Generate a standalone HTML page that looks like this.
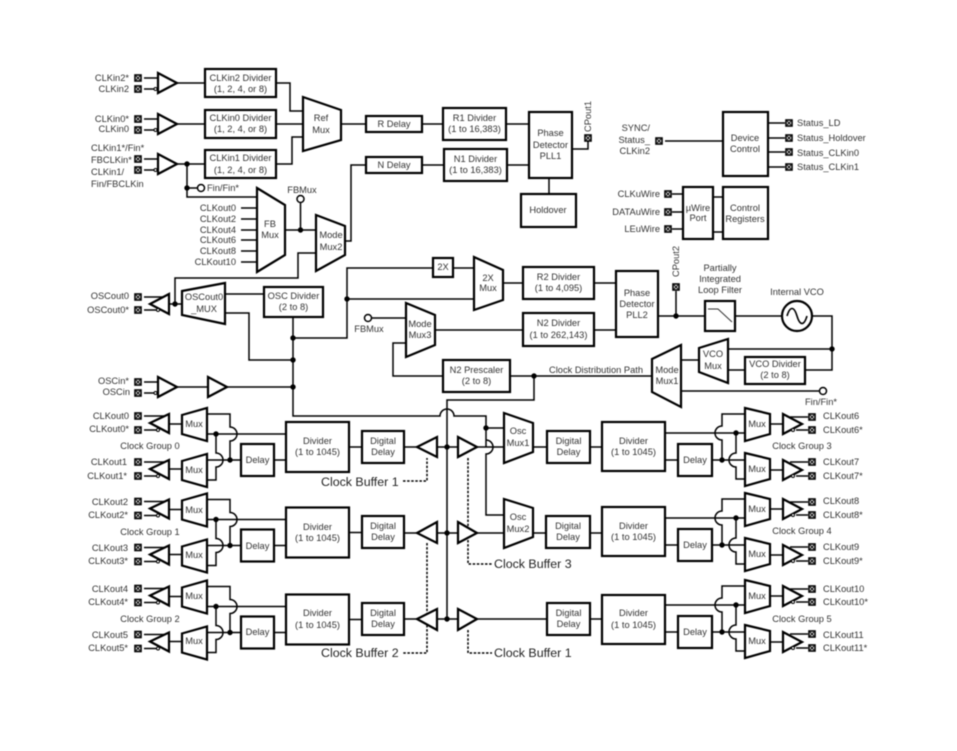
<!DOCTYPE html>
<html>
<head>
<meta charset="utf-8">
<style>
html,body{margin:0;padding:0;background:#fff;width:957px;height:751px;overflow:hidden}
svg{display:block;filter:blur(.4px)}
text{font-family:"Liberation Sans",sans-serif;font-size:9.3px;fill:#333;dominant-baseline:central}
.m{text-anchor:middle}
.e{text-anchor:end}
.b{font-size:12.4px;fill:#222}
.l{fill:none;stroke:#000;stroke-width:1.5}
.s{fill:#fff;stroke:#000;stroke-width:2.2;stroke-linejoin:miter}
.d{fill:#000;stroke:none}
.h{fill:none;stroke:#000;stroke-width:1.5;stroke-dasharray:2.5 1.6}
</style>
</head>
<body>
<svg width="957" height="751" viewBox="0 0 957 751" xmlns="http://www.w3.org/2000/svg">
<defs>
<g id="p"><rect x="-3" y="-3" width="6" height="6" fill="#fff" stroke="#000" stroke-width="1.6"/><path d="M-2 -2L2 2M2 -2L-2 2" stroke="#000" stroke-width=".9"/></g>
<g id="ib"><path class="l" d="M144 -5H160M144 6H154"/><circle cx="155.500" cy="6" r="1.500" fill="#fff" stroke="#000" stroke-width="1"/><polygon class="s" points="158,-10 177,0 158,10"/><use href="#p" x="138" y="-5"/><use href="#p" x="138" y="6"/></g>
<g id="lg">
<path class="l" d="M144 416H164M144 430H157M144 462H164M144 476H157M169 424H182M169 469H182"/>
<circle cx="158" cy="430" r="1.500" fill="#fff" stroke="#000" stroke-width="1"/><circle cx="158" cy="476" r="1.500" fill="#fff" stroke="#000" stroke-width="1"/>
<polygon class="s" points="150,423 169,414 169,433"/><polygon class="s" points="150,469 169,460 169,479"/>
<use href="#p" x="138" y="416"/><use href="#p" x="138" y="430"/><use href="#p" x="138" y="462"/><use href="#p" x="138" y="476"/>
<polygon class="s" points="182,415 207,408 207,441 182,434"/><polygon class="s" points="182,461 207,454 207,487 182,480"/>
<path class="l" d="M207 414H230V427A7 7 0 0 1 230 441V460M207 434H286M216 434V453A7 7 0 0 1 216 467V480H207M207 460H241M274 460H286M349 447H362"/>
<circle class="d" cx="216" cy="434" r="2.700"/><circle class="d" cx="230" cy="460" r="2.700"/>
<rect class="s" x="241" y="444" width="33" height="32"/><rect class="s" x="286" y="422" width="63" height="50"/>
</g>
<g id="rg">
<path class="l" d="M665 433H745M722 460V440A7 7 0 0 1 722 426V414H745M736 433V453A7 7 0 0 0 736 467V479H745M712 460H745M665 460H678M770 424H783M770 470H783M790 417H808M796 430H808M790 462H808M796 476H808"/>
<circle class="d" cx="736" cy="433" r="2.700"/><circle class="d" cx="722" cy="460" r="2.700"/>
<rect class="s" x="678" y="444" width="34" height="32"/>
<polygon class="s" points="745,408 770,414 770,434 745,441"/><polygon class="s" points="745,453 770,459 770,479 745,486"/>
<polygon class="s" points="783,414 802,424 783,434"/><polygon class="s" points="783,460 802,470 783,480"/>
<circle cx="793" cy="430" r="1.500" fill="#fff" stroke="#000" stroke-width="1"/><circle cx="793" cy="476" r="1.500" fill="#fff" stroke="#000" stroke-width="1"/>
<use href="#p" x="812" y="417"/><use href="#p" x="812" y="430"/><use href="#p" x="812" y="462"/><use href="#p" x="812" y="476"/>
</g>
</defs>

<!-- connectors -->
<path class="l" d="M177 83H205M276 83H290V111H303M177 124H205M276 124H303M177 164H205M276 164H292V137H303M187 164V197H257M187 188H197M241 208H257M241 219H257M241 230H257M241 240H257M241 251H257M241 262H257M285 230H316M300.500 230V203M345 241H351V165H366M316 253H298V278H175V304M341 124H366M422 124H443M506 124H529M422 165H444M507 165H529M549 178V194M572 149H588V141"/>
<path class="l" d="M169 304H182M225 294H264M225 313H249V360H293M293 317V416H440A7 7 0 0 1 454 416H486V447M486 416V428H504M486 440A7 7 0 0 1 486 454V515H504M293 338H347V268H433M453 268H474M347 299H474M503 283H523M594 283H616M594 330H616M372 318H406M435 330H523M406 343H393V376H443M510 376H652M534 376V400H447V619"/>
<path class="l" d="M658 316H705M735 316H782M812 316H832V370H805M832 349H728M745 370H728M699 360H681M681 391H819M676 291V316"/>
<path class="l" d="M144 297H163M144 310H157M177 387H208M227 387H293"/>
<path class="l" d="M404 447H417M437 447H458M477 447H504M533 447H547M590 447H602M404 533H417M437 533H458M477 533H504M533 533H546M590 533H602M404 619H417M437 619H458M477 619H547M590 619H602"/>
<path class="l" d="M713 197H723M713 232H723M672 194H683M672 212H683M672 229H683M665 141H723M768 123H785M768 138H785M768 152H785M768 167H785"/>
<path class="h" d="M403 481H427V458M427 543V653H403M468 458V564H492M468 630V653H492"/>

<!-- input buffers -->
<use href="#ib" y="83"/><use href="#ib" y="124"/><use href="#ib" y="164"/><use href="#ib" y="387"/>
<polygon class="s" points="208,377 227,387 208,397"/>

<!-- top-left blocks -->
<rect class="s" x="205" y="69" width="71" height="28"/><rect class="s" x="205" y="110" width="71" height="28"/><rect class="s" x="205" y="150" width="71" height="28"/>
<polygon class="s" points="303,97 341,110 341,140 303,151"/>
<polygon class="s" points="257,188 285,205 285,255 257,272"/>
<polygon class="s" points="316,215 345,226 345,255 316,271"/>
<rect class="s" x="366" y="116" width="56" height="16"/><rect class="s" x="366" y="157" width="56" height="16"/>
<rect class="s" x="443" y="108" width="63" height="32"/><rect class="s" x="444" y="149" width="63" height="32"/>
<rect class="s" x="529" y="112" width="43" height="66"/><rect class="s" x="521" y="194" width="55" height="33"/>
<circle class="d" cx="187" cy="164" r="2.700"/><circle class="d" cx="187" cy="188" r="2.700"/><circle class="d" cx="300.500" cy="230" r="2.700"/>
<circle cx="201" cy="188" r="3.500" fill="#fff" stroke="#000" stroke-width="1.500"/><circle cx="300.500" cy="199" r="3.500" fill="#fff" stroke="#000" stroke-width="1.500"/>
<use href="#p" x="588" y="138"/>

<!-- top-right blocks -->
<rect class="s" x="723" y="112" width="45" height="64"/><rect class="s" x="683" y="187" width="30" height="52"/><rect class="s" x="723" y="187" width="45" height="52"/>
<use href="#p" x="659" y="141"/><use href="#p" x="789" y="123"/><use href="#p" x="789" y="138"/><use href="#p" x="789" y="152"/><use href="#p" x="789" y="167"/>
<use href="#p" x="668" y="194"/><use href="#p" x="668" y="212"/><use href="#p" x="668" y="229"/>

<!-- mid blocks -->
<polygon class="s" points="150,304 169,294 169,314"/>
<circle cx="158" cy="310" r="1.500" fill="#fff" stroke="#000" stroke-width="1"/>
<use href="#p" x="138" y="297"/><use href="#p" x="138" y="310"/>
<circle class="d" cx="175" cy="304" r="2.700"/>
<polygon class="s" points="182,291 225,283 225,324 182,315"/>
<rect class="s" x="264" y="287" width="59" height="30"/>
<circle class="d" cx="293" cy="338" r="2.700"/><circle class="d" cx="293" cy="360" r="2.700"/><circle class="d" cx="293" cy="387" r="2.700"/><circle class="d" cx="347" cy="299" r="2.700"/>
<rect class="s" x="433" y="258" width="20" height="19"/>
<polygon class="s" points="474,257 503,270 503,300 474,310"/>
<rect class="s" x="523" y="267" width="71" height="32"/><rect class="s" x="523" y="313" width="71" height="33"/>
<rect class="s" x="616" y="271" width="42" height="66"/>
<use href="#p" x="676" y="287"/><circle class="d" cx="676" cy="316" r="2.700"/>
<rect class="s" x="705" y="301" width="30" height="30"/><path d="M708 309H718L732 322" fill="none" stroke="#333" stroke-width="1"/>
<circle class="s" cx="797" cy="316" r="15"/><path d="M787 316C790 306 794 306 797 316S804 326 807 316" fill="none" stroke="#000" stroke-width="1.600"/>
<circle class="d" cx="832" cy="349" r="2.700"/>
<polygon class="s" points="699,348 728,339 728,383 699,372"/>
<rect class="s" x="745" y="357" width="60" height="27"/>
<polygon class="s" points="652,359 681,345 681,407 652,392"/>
<circle cx="823" cy="391" r="3.500" fill="#fff" stroke="#000" stroke-width="1.500"/>
<circle cx="368" cy="318" r="3.500" fill="#fff" stroke="#000" stroke-width="1.500"/>
<polygon class="s" points="406,303 435,315 435,345 406,357"/>
<rect class="s" x="443" y="360" width="67" height="32"/>
<circle class="d" cx="534" cy="376" r="2.700"/>

<!-- clock groups -->
<use href="#lg"/><use href="#lg" y="85.500"/><use href="#lg" y="172.500"/>
<use href="#rg"/><use href="#rg" y="85"/><use href="#rg" y="172"/>

<!-- centre -->
<rect class="s" x="362" y="431" width="42" height="32"/><rect class="s" x="362" y="516" width="42" height="32"/><rect class="s" x="362" y="603" width="42" height="32"/>
<polygon class="s" points="417,447 437,437 437,457"/><polygon class="s" points="417,533 437,522 437,543"/><polygon class="s" points="417,619 437,609 437,630"/>
<polygon class="s" points="458,437 477,447 458,457"/><polygon class="s" points="458,522 477,533 458,543"/><polygon class="s" points="458,609 477,619 458,630"/>
<circle class="d" cx="447" cy="447" r="2.700"/><circle class="d" cx="447" cy="533" r="2.700"/><circle class="d" cx="447" cy="619" r="2.700"/><circle class="d" cx="486" cy="428" r="2.700"/>
<polygon class="s" points="504,413 533,423 533,452 504,463"/><polygon class="s" points="504,499 533,508 533,537 504,548"/>
<rect class="s" x="547" y="431" width="43" height="32"/><rect class="s" x="546" y="516" width="44" height="32"/><rect class="s" x="547" y="603" width="43" height="32"/>
<rect class="s" x="602" y="422" width="63" height="49"/><rect class="s" x="602" y="507" width="63" height="49"/><rect class="s" x="602" y="595" width="63" height="49"/>

<!-- text -->
<text class="e" x="129" y="78">CLKin2*</text><text class="e" x="129" y="89">CLKin2</text>
<text class="e" x="129" y="119">CLKin0*</text><text class="e" x="129" y="129">CLKin0</text>
<text x="91" y="148">CLKin1*/Fin*</text><text x="91" y="160">FBCLKin*</text><text x="91" y="172">CLKin1/</text><text x="91" y="184">Fin/FBCLKin</text>
<text class="m" x="240.500" y="78">CLKin2 Divider</text><text class="m" x="240.500" y="89">(1, 2, 4, or 8)</text>
<text class="m" x="240.500" y="118">CLKin0 Divider</text><text class="m" x="240.500" y="129">(1, 2, 4, or 8)</text>
<text class="m" x="240.500" y="158">CLKin1 Divider</text><text class="m" x="240.500" y="170">(1, 2, 4, or 8)</text>
<text class="m" x="321" y="118">Ref</text><text class="m" x="321" y="130">Mux</text>
<text x="207" y="188">Fin/Fin*</text>
<text class="m" x="302" y="190">FBMux</text>
<text class="e" x="236" y="208">CLKout0</text><text class="e" x="236" y="219">CLKout2</text><text class="e" x="236" y="230">CLKout4</text><text class="e" x="236" y="240">CLKout6</text><text class="e" x="236" y="251">CLKout8</text><text class="e" x="236" y="262">CLKout10</text>
<text class="m" x="270" y="224">FB</text><text class="m" x="270" y="235">Mux</text>
<text class="m" x="331" y="235">Mode</text><text class="m" x="331" y="247">Mux2</text>
<text class="m" x="394" y="124">R Delay</text><text class="m" x="394" y="165">N Delay</text>
<text class="m" x="474.500" y="118">R1 Divider</text><text class="m" x="474.500" y="129">(1 to 16,383)</text>
<text class="m" x="475.500" y="159">N1 Divider</text><text class="m" x="475.500" y="170">(1 to 16,383)</text>
<text class="m" x="550.500" y="133">Phase</text><text class="m" x="550.500" y="145">Detector</text><text class="m" x="550.500" y="156">PLL1</text>
<text class="m" x="548" y="210">Holdover</text>
<text transform="rotate(-90 588 132)" x="588" y="132">CPout1</text>
<text class="e" x="650" y="128">SYNC/</text><text class="e" x="650" y="140">Status_</text><text class="e" x="650" y="151">CLKin2</text>
<text class="m" x="745" y="138">Device</text><text class="m" x="745" y="149">Control</text>
<text x="797" y="123">Status_LD</text><text x="797" y="138">Status_Holdover</text><text x="797" y="153">Status_CLKin0</text><text x="797" y="167">Status_CLKin1</text>
<text class="e" x="660" y="194">CLKuWire</text><text class="e" x="660" y="212">DATAuWire</text><text class="e" x="660" y="229">LEuWire</text>
<text class="m" x="698" y="208">µWire</text><text class="m" x="698" y="218">Port</text>
<text class="m" x="745" y="208">Control</text><text class="m" x="745" y="219">Registers</text>

<text class="e" x="129" y="296">OSCout0</text><text class="e" x="129" y="310">OSCout0*</text>
<text class="m" x="204" y="297">OSCout0</text><text class="m" x="204" y="309">_MUX</text>
<text class="m" x="293.500" y="296">OSC Divider</text><text class="m" x="293.500" y="307">(2 to 8)</text>
<text class="e" x="129" y="381">OSCin*</text><text class="e" x="130" y="392">OSCin</text>
<text class="m" x="443" y="267">2X</text>
<text class="m" x="488" y="278">2X</text><text class="m" x="488" y="288">Mux</text>
<text class="m" x="558.500" y="277">R2 Divider</text><text class="m" x="558.500" y="288">(1 to 4,095)</text>
<text class="m" x="558.500" y="323">N2 Divider</text><text class="m" x="558.500" y="335">(1 to 262,143)</text>
<text class="m" x="637" y="293">Phase</text><text class="m" x="637" y="304">Detector</text><text class="m" x="637" y="315">PLL2</text>
<text transform="rotate(-90 676 277)" x="676" y="277">CPout2</text>
<text class="m" x="720" y="268">Partially</text><text class="m" x="720" y="279">Integrated</text><text class="m" x="720" y="290">Loop Filter</text>
<text class="m" x="797" y="292">Internal VCO</text>
<text class="m" x="369" y="329">FBMux</text>
<text class="m" x="420" y="324">Mode</text><text class="m" x="420" y="335">Mux3</text>
<text class="m" x="476.500" y="370">N2 Prescaler</text><text class="m" x="476.500" y="381">(2 to 8)</text>
<text x="549" y="370">Clock Distribution Path</text>
<text class="m" x="713" y="354">VCO</text><text class="m" x="713" y="366">Mux</text>
<text class="m" x="775" y="364">VCO Divider</text><text class="m" x="775" y="375">(2 to 8)</text>
<text class="m" x="667" y="370">Mode</text><text class="m" x="667" y="381">Mux1</text>
<text class="m" x="821" y="402">Fin/Fin*</text>

<!-- left group text -->
<text class="e" x="129" y="416">CLKout0</text><text class="e" x="129" y="429">CLKout0*</text><text class="m" x="150" y="446">Clock Group 0</text><text class="e" x="127" y="462">CLKout1</text><text class="e" x="127" y="476">CLKout1*</text>
<text class="e" x="128" y="502">CLKout2</text><text class="e" x="128" y="515">CLKout2*</text><text class="m" x="150" y="532">Clock Group 1</text><text class="e" x="128" y="548">CLKout3</text><text class="e" x="128" y="561">CLKout3*</text>
<text class="e" x="128" y="589">CLKout4</text><text class="e" x="128" y="602">CLKout4*</text><text class="m" x="150" y="619">Clock Group 2</text><text class="e" x="128" y="635">CLKout5</text><text class="e" x="128" y="648">CLKout5*</text>
<text class="m" x="194" y="424">Mux</text><text class="m" x="194" y="470">Mux</text><text class="m" x="194" y="510">Mux</text><text class="m" x="194" y="555">Mux</text><text class="m" x="194" y="596">Mux</text><text class="m" x="194" y="641">Mux</text>
<text class="m" x="257.500" y="460">Delay</text><text class="m" x="257.500" y="546">Delay</text><text class="m" x="257.500" y="632">Delay</text>
<text class="m" x="317.500" y="441">Divider</text><text class="m" x="317.500" y="452">(1 to 1045)</text>
<text class="m" x="317.500" y="527">Divider</text><text class="m" x="317.500" y="538">(1 to 1045)</text>
<text class="m" x="317.500" y="613">Divider</text><text class="m" x="317.500" y="625">(1 to 1045)</text>
<text class="m" x="383" y="441">Digital</text><text class="m" x="383" y="452">Delay</text>
<text class="m" x="383" y="526">Digital</text><text class="m" x="383" y="537">Delay</text>
<text class="m" x="383" y="613">Digital</text><text class="m" x="383" y="624">Delay</text>

<text class="b" x="321" y="482">Clock Buffer 1</text><text class="b" x="321" y="653">Clock Buffer 2</text>
<text class="b" x="494" y="564">Clock Buffer 3</text><text class="b" x="494" y="653">Clock Buffer 1</text>

<text class="m" x="518" y="431">Osc</text><text class="m" x="518" y="443">Mux1</text>
<text class="m" x="518" y="517">Osc</text><text class="m" x="518" y="529">Mux2</text>
<text class="m" x="568.500" y="441">Digital</text><text class="m" x="568.500" y="452">Delay</text>
<text class="m" x="568" y="526">Digital</text><text class="m" x="568" y="537">Delay</text>
<text class="m" x="568.500" y="613">Digital</text><text class="m" x="568.500" y="624">Delay</text>
<text class="m" x="633.500" y="441">Divider</text><text class="m" x="633.500" y="452">(1 to 1045)</text>
<text class="m" x="633.500" y="526">Divider</text><text class="m" x="633.500" y="537">(1 to 1045)</text>
<text class="m" x="633.500" y="613">Divider</text><text class="m" x="633.500" y="625">(1 to 1045)</text>

<!-- right group text -->
<text class="m" x="695" y="460">Delay</text><text class="m" x="695" y="545">Delay</text><text class="m" x="695" y="632">Delay</text>
<text class="m" x="757" y="424">Mux</text><text class="m" x="757" y="469">Mux</text><text class="m" x="757" y="509">Mux</text><text class="m" x="757" y="554">Mux</text><text class="m" x="757" y="596">Mux</text><text class="m" x="757" y="641">Mux</text>
<text x="823" y="416">CLKout6</text><text x="823" y="430">CLKout6*</text><text class="m" x="802" y="446">Clock Group 3</text><text x="823" y="462">CLKout7</text><text x="823" y="476">CLKout7*</text>
<text x="823" y="501">CLKout8</text><text x="823" y="515">CLKout8*</text><text class="m" x="802" y="531">Clock Group 4</text><text x="823" y="547">CLKout9</text><text x="823" y="561">CLKout9*</text>
<text x="823" y="589">CLKout10</text><text x="823" y="602">CLKout10*</text><text class="m" x="802" y="619">Clock Group 5</text><text x="823" y="635">CLKout11</text><text x="823" y="648">CLKout11*</text>
</svg>
</body>
</html>
